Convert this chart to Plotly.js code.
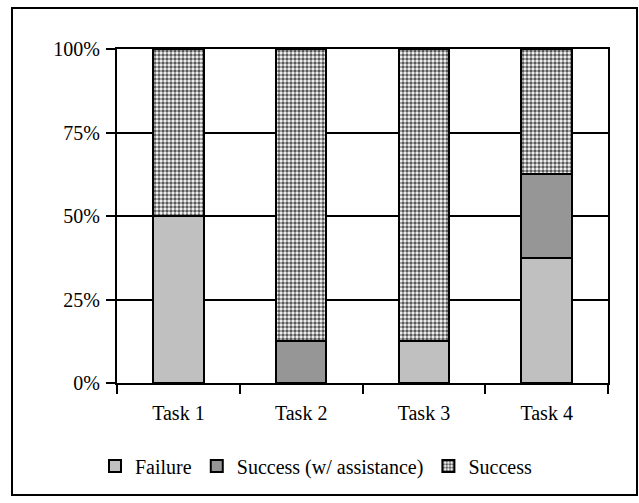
<!DOCTYPE html>
<html>
<head>
<meta charset="utf-8">
<script src="https://cdn.plot.ly/plotly-3.0.1.min.js"></script>
<style>
  html, body { margin: 0; padding: 0; background: #ffffff; }
  #chart { width: 639px; height: 503px; }
</style>
</head>
<body>
<div id="chart"></div>
<script>
// Task outcomes, share of participants per task
const tasks = ['Task 1', 'Task 2', 'Task 3', 'Task 4'];
const failure = [0.50, 0.00, 0.125, 0.375];
const assisted = [0.00, 0.125, 0.00, 0.25];
const success = [0.50, 0.875, 0.875, 0.375];

const seriesNames = ['Failure', 'Success (w/ assistance)', 'Success'];
const yTickVals = [0, 0.25, 0.5, 0.75, 1];
const yTickText = ['0%', '25%', '50%', '75%', '100%'];

const FONT = "'Liberation Serif', 'Times New Roman', serif";
const outline = { color: '#000000', width: 2 };

const traces = [
  {
    type: 'bar', name: seriesNames[0], x: tasks, y: failure,
    marker: { color: '#c0c0c0', line: outline }
  },
  {
    type: 'bar', name: seriesNames[1], x: tasks, y: assisted,
    marker: { color: '#969696', line: outline }
  },
  {
    type: 'bar', name: seriesNames[2], x: tasks, y: success,
    marker: {
      color: '#ffffff', line: outline,
      pattern: { shape: '.', fgcolor: '#5a5a5a', bgcolor: '#ffffff', size: 4, solidity: 0.6 }
    }
  }
];

// plot area spans x 117..608, y 49..383 in pixels
const PW = 491, PH = 334, L = 117, T = 49;
const px = v => (v - L) / PW;
const py = v => (T + PH - v) / PH;

const layout = {
  width: 639, height: 503,
  margin: { l: L, r: 639 - L - PW, t: T, b: 503 - T - PH },
  paper_bgcolor: '#ffffff', plot_bgcolor: '#ffffff',
  barmode: 'stack',
  bargap: 0.59,
  font: { family: FONT, size: 20, color: '#000000' },
  showlegend: true,
  legend: {
    orientation: 'h', x: px(316), xanchor: 'center', y: py(466), yanchor: 'middle',
    font: { family: FONT, size: 20, color: '#000000' },
    traceorder: 'normal', itemwidth: 30, tracegroupgap: 0
  },
  xaxis: {
    type: 'category',
    tickson: 'boundaries',
    ticks: 'outside', ticklen: 9, tickwidth: 2, tickcolor: '#000000',
    ticklabelstandoff: 11,
    showline: true, linecolor: '#000000', linewidth: 2, mirror: true,
    showgrid: false, zeroline: false,
    tickfont: { family: FONT, size: 20, color: '#000000' },
    fixedrange: true
  },
  yaxis: {
    range: [0, 1],
    tickvals: yTickVals, ticktext: yTickText,
    ticks: 'outside', ticklen: 9, tickwidth: 2, tickcolor: '#000000',
    ticklabelstandoff: 2,
    showline: true, linecolor: '#000000', linewidth: 2, mirror: true,
    showgrid: true, gridcolor: '#000000', gridwidth: 2,
    zeroline: false,
    tickfont: { family: FONT, size: 20, color: '#000000' },
    fixedrange: true
  },
  shapes: [
    {
      type: 'rect', xref: 'paper', yref: 'paper', layer: 'below',
      x0: px(12), x1: px(637), y0: py(495), y1: py(8),
      line: { color: '#000000', width: 2 }, fillcolor: 'rgba(0,0,0,0)'
    }
  ]
};

Plotly.newPlot('chart', traces, layout, { displayModeBar: false, staticPlot: true });
</script>
</body>
</html>
